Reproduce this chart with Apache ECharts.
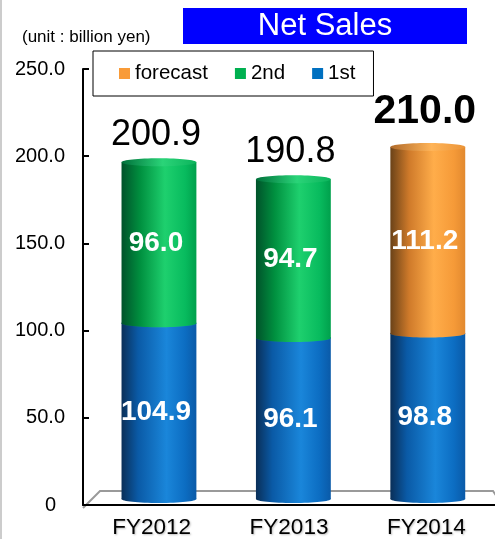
<!DOCTYPE html>
<html>
<head>
<meta charset="utf-8">
<script src="https://cdn.jsdelivr.net/npm/echarts@6/dist/echarts.min.js"></script>
<style>
  html, body { margin: 0; padding: 0; background: #fff; }
  #chart { width: 495px; height: 539px; }
</style>
</head>
<body>
<div id="chart"></div>
<script>
// Net sales by fiscal year (billion yen)
const categories = ['FY2012', 'FY2013', 'FY2014'];
const firstHalf  = [104.9, 96.1, 98.8];
const secondHalf = [96.0, 94.7, null];
const forecast   = [null, null, 111.2];
const yMin = 0, yMax = 250, yStep = 50;

const FONT = "'Liberation Sans', Arial, sans-serif";

// cylinder shading: dark left edge, highlight right of centre
const shades = {
  '1st': {
    flat: '#0070c0',
    body: [[0, '#0a2f58'], [0.22, '#0a5aa6'], [0.6, '#1a86da'], [0.85, '#0c6dc2'], [1, '#0a5aa8']],
    top:  [[0, '#0e4a86'], [0.55, '#2490e0'], [1, '#1074c6']]
  },
  '2nd': {
    flat: '#00b050',
    body: [[0, '#00522a'], [0.25, '#00903f'], [0.58, '#1ed06e'], [0.85, '#08bb5e'], [1, '#00a04c']],
    top:  [[0, '#00703a'], [0.55, '#2ad478'], [1, '#0cb45c']]
  },
  'forecast': {
    flat: '#f99b38',
    body: [[0, '#6a4218'], [0.25, '#cf7a2a'], [0.58, '#ffad4a'], [0.85, '#f59a38'], [1, '#e2892f']],
    top:  [[0, '#b06a2a'], [0.55, '#ffb458'], [1, '#eb9438']]
  }
};

const grad = stops => new echarts.graphic.LinearGradient(0, 0, 1, 0,
  stops.map(s => ({ offset: s[0], color: s[1] })));

const BAR_RATIO = 0.557;
const RY = 4;

function cylinderRenderer(name) {
  const sh = shades[name];
  return function (params, api) {
    const cat = api.value(0), lo = api.value(1), hi = api.value(2), v = api.value(3);
    const p0 = api.coord([cat, lo]);
    const p1 = api.coord([cat, hi]);
    const bw = api.size([1, 0])[0] * BAR_RATIO;
    const cx = p0[0];
    return {
      type: 'group',
      children: [
        { type: 'ellipse', shape: { cx: cx, cy: p0[1], rx: bw / 2, ry: RY }, style: { fill: grad(sh.body) } },
        { type: 'rect', shape: { x: cx - bw / 2, y: p1[1], width: bw, height: p0[1] - p1[1] }, style: { fill: grad(sh.body) } },
        { type: 'ellipse', shape: { cx: cx, cy: p1[1], rx: bw / 2, ry: RY }, style: { fill: grad(sh.top) } },
        { type: 'text', x: cx - 3, y: (p0[1] + p1[1]) / 2 + 1,
          style: { text: v.toFixed(1), fill: '#fff', font: 'bold 28px ' + FONT, align: 'center', verticalAlign: 'middle' } }
      ]
    };
  };
}

function segData(values, bases) {
  const out = [];
  values.forEach((v, i) => {
    if (v == null) return;
    const b = bases ? bases[i] : 0;
    out.push([i, b, b + v, v]);
  });
  return out;
}

const upper = categories.map((c, i) => secondHalf[i] != null ? secondHalf[i] : forecast[i]);
const totals = categories.map((c, i) => firstHalf[i] + upper[i]);

const chart = echarts.init(document.getElementById('chart'), null, { renderer: 'canvas' });

chart.setOption({
  animation: false,
  backgroundColor: '#fff',
  legend: {
    data: ['forecast', '2nd', '1st'],
    left: 93, top: 51,
    padding: [12, 18, 12, 26],
    borderColor: '#000', borderWidth: 1,
    itemWidth: 11, itemHeight: 11, itemGap: 27,
    icon: 'rect',
    textStyle: { fontFamily: FONT, fontSize: 20.5, color: '#000' }
  },
  grid: [
    // front plane carrying the visible axes
    { left: 83, top: 69, width: 426, height: 439 },
    // bar plane (set back in depth)
    { left: 91.75, top: 80, width: 409.5, height: 419 }
  ],
  xAxis: [
    {
      gridIndex: 0, type: 'category', data: categories,
      axisLine: { lineStyle: { color: '#000', width: 2 } },
      axisTick: { inside: true, length: 6, lineStyle: { color: '#000', width: 2 } },
      axisLabel: {
        margin: 11, fontFamily: FONT, fontSize: 22.5, color: '#000',
        textShadowColor: 'rgba(0,0,0,0.25)', textShadowBlur: 2, textShadowOffsetX: 1, textShadowOffsetY: 1
      }
    },
    { gridIndex: 1, type: 'category', data: categories, show: false }
  ],
  yAxis: [
    {
      gridIndex: 0, type: 'value', min: yMin, max: yMax, interval: yStep,
      axisLine: { show: true, lineStyle: { color: '#000', width: 2 } },
      axisTick: { show: true, inside: true, length: 6, lineStyle: { color: '#000', width: 2 } },
      splitLine: { show: false },
      axisLabel: {
        margin: 18, fontFamily: FONT, fontSize: 20, color: '#000',
        formatter: v => v === 0 ? '{z|0}' : v.toFixed(1),
        rich: { z: { fontFamily: FONT, fontSize: 20, color: '#000', padding: [0, 9, 0, 0] } }
      }
    },
    { gridIndex: 1, type: 'value', min: yMin, max: yMax, interval: yStep, show: false }
  ],
  graphic: [
    // thin frame on the left edge
    { type: 'rect', left: 0, top: 0, shape: { width: 2, height: 539 }, style: { fill: '#cccccc' }, z: 0 },
    // title banner
    { type: 'rect', shape: { x: 183, y: 8, width: 284, height: 36 }, style: { fill: '#0000ff' }, z: 1 },
    { type: 'text', x: 325, y: 26, style: { text: 'Net Sales', fill: '#fff', font: '31px ' + FONT, align: 'center', verticalAlign: 'middle' }, z: 2 },
    // unit note
    { type: 'text', x: 22, y: 37, style: { text: '(unit : billion yen)', fill: '#000', font: '17px ' + FONT, align: 'left', verticalAlign: 'middle' }, z: 2 },
    // floor outline
    { type: 'polyline', shape: { points: [[83, 508], [100, 491], [493, 491], [497, 497]] },
      style: { stroke: '#9a9a9a', lineWidth: 2, fill: null }, z: 0 }
  ],
  series: [
    {
      name: '1st', type: 'custom', xAxisIndex: 1, yAxisIndex: 1,
      itemStyle: { color: shades['1st'].flat },
      renderItem: cylinderRenderer('1st'),
      data: segData(firstHalf, null), z: 3
    },
    {
      name: '2nd', type: 'custom', xAxisIndex: 1, yAxisIndex: 1,
      itemStyle: { color: shades['2nd'].flat },
      renderItem: cylinderRenderer('2nd'),
      data: segData(secondHalf, firstHalf), z: 4
    },
    {
      name: 'forecast', type: 'custom', xAxisIndex: 1, yAxisIndex: 1,
      itemStyle: { color: shades['forecast'].flat },
      renderItem: cylinderRenderer('forecast'),
      data: segData(forecast, firstHalf), z: 4
    },
    {
      name: 'total', type: 'custom', xAxisIndex: 1, yAxisIndex: 1,
      renderItem: function (params, api) {
        const i = api.value(0), t = api.value(1);
        const p = api.coord([i, t]);
        const isForecast = forecast[i] != null;
        return {
          type: 'text', x: p[0] - 3, y: p[1] - (isForecast ? 35 : 27),
          style: {
            text: t.toFixed(1), fill: '#000', align: 'center', verticalAlign: 'middle',
            font: (isForecast ? 'bold 41px ' : '36px ') + FONT
          }
        };
      },
      data: totals.map((t, i) => [i, t]), z: 5
    }
  ]
});
</script>
</body>
</html>
